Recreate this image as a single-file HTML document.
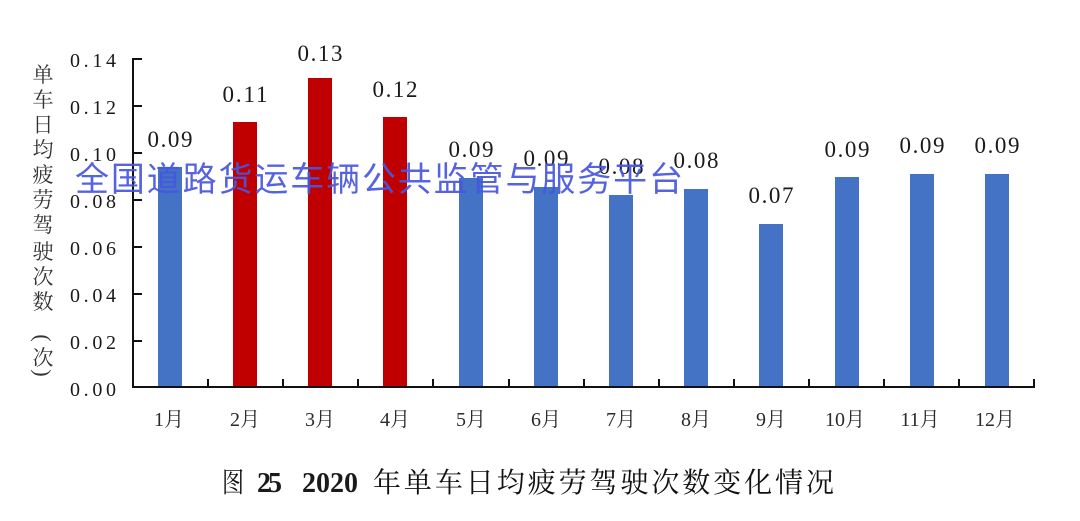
<!DOCTYPE html>
<html><head><meta charset="utf-8"><style>
html,body{margin:0;padding:0;background:#fff;}
svg{display:block;}
.num{font-family:"Liberation Serif","Noto Serif CJK SC",serif;fill:#1a1a1a;}
.cjk{font-family:"Liberation Serif","Noto Serif CJK SC",serif;fill:#2a2a2a;}
.cj{font-family:"Noto Serif CJK SC",serif;}
</style></head><body>
<svg width="1080" height="521" viewBox="0 0 1080 521" xmlns="http://www.w3.org/2000/svg">
<rect width="1080" height="521" fill="#fff"/>
<!-- y axis title -->
<g class="cj" font-size="21" text-anchor="middle" fill="#333">
<text x="43" y="82">单</text>
<text x="43" y="107">车</text>
<text x="43" y="132">日</text>
<text x="43" y="157">均</text>
<text x="43" y="182">疲</text>
<text x="43" y="207">劳</text>
<text x="43" y="232">驾</text>
<text x="43" y="259">驶</text>
<text x="43" y="284">次</text>
<text x="43" y="309">数</text>
<text x="43" y="365">次</text>
</g>
<g font-family="Liberation Serif, serif" font-size="22" fill="#333" text-anchor="middle">
<text transform="translate(43,338) rotate(90)" dominant-baseline="central">(</text>
<text transform="translate(43,373) rotate(90)" dominant-baseline="central">)</text>
</g>
<!-- y ticks labels -->
<g class="num" font-size="20" text-anchor="end">
<text x="116" y="67" textLength="46">0.14</text>
<text x="116" y="114" textLength="46">0.12</text>
<text x="116" y="161" textLength="46">0.10</text>
<text x="116" y="208" textLength="46">0.08</text>
<text x="116" y="255" textLength="46">0.06</text>
<text x="116" y="302" textLength="46">0.04</text>
<text x="116" y="349" textLength="46">0.02</text>
<text x="116" y="396" textLength="46">0.00</text>
</g>
<!-- bars -->
<g>
<rect x="158" y="167" width="24" height="220" fill="#4472C4"/>
<rect x="233" y="122" width="24" height="265" fill="#C00000"/>
<rect x="308" y="78" width="24" height="309" fill="#C00000"/>
<rect x="383" y="117" width="24" height="270" fill="#C00000"/>
<rect x="459" y="178" width="24" height="209" fill="#4472C4"/>
<rect x="534" y="187" width="24" height="200" fill="#4472C4"/>
<rect x="609" y="195" width="24" height="192" fill="#4472C4"/>
<rect x="684" y="189" width="24" height="198" fill="#4472C4"/>
<rect x="759" y="224" width="24" height="163" fill="#4472C4"/>
<rect x="835" y="177" width="24" height="210" fill="#4472C4"/>
<rect x="910" y="174" width="24" height="213" fill="#4472C4"/>
<rect x="985" y="174" width="24" height="213" fill="#4472C4"/>
</g>
<!-- axes -->
<g stroke="#111" stroke-width="2" fill="none">
<line x1="133" y1="58" x2="133" y2="388"/>
<line x1="132" y1="387" x2="1035" y2="387"/>
<line x1="133" y1="59" x2="142" y2="59"/>
<line x1="133" y1="106" x2="142" y2="106"/>
<line x1="133" y1="153" x2="142" y2="153"/>
<line x1="133" y1="200" x2="142" y2="200"/>
<line x1="133" y1="247" x2="142" y2="247"/>
<line x1="133" y1="294" x2="142" y2="294"/>
<line x1="133" y1="341" x2="142" y2="341"/>
<line x1="208" y1="379" x2="208" y2="387"/>
<line x1="283" y1="379" x2="283" y2="387"/>
<line x1="358" y1="379" x2="358" y2="387"/>
<line x1="433" y1="379" x2="433" y2="387"/>
<line x1="509" y1="379" x2="509" y2="387"/>
<line x1="584" y1="379" x2="584" y2="387"/>
<line x1="659" y1="379" x2="659" y2="387"/>
<line x1="734" y1="379" x2="734" y2="387"/>
<line x1="809" y1="379" x2="809" y2="387"/>
<line x1="884" y1="379" x2="884" y2="387"/>
<line x1="959" y1="379" x2="959" y2="387"/>
<line x1="1034" y1="379" x2="1034" y2="387"/>
</g>
<!-- value labels -->
<g class="num" font-size="23" text-anchor="middle">
<text x="170" y="147" textLength="45">0.09</text>
<text x="245" y="102" textLength="45">0.11</text>
<text x="320" y="61" textLength="45">0.13</text>
<text x="395" y="97" textLength="45">0.12</text>
<text x="471" y="157" textLength="45">0.09</text>
<text x="546" y="166" textLength="45">0.09</text>
<text x="621" y="174" textLength="45">0.08</text>
<text x="696" y="168" textLength="45">0.08</text>
<text x="771" y="203" textLength="45">0.07</text>
<text x="847" y="157" textLength="45">0.09</text>
<text x="922" y="153" textLength="45">0.09</text>
<text x="997" y="153" textLength="45">0.09</text>
</g>
<!-- x labels -->
<g class="cjk" font-size="20" text-anchor="middle" fill="#222">
<text x="169" y="426">1月</text>
<text x="245" y="426">2月</text>
<text x="320" y="426">3月</text>
<text x="395" y="426">4月</text>
<text x="471" y="426">5月</text>
<text x="546" y="426">6月</text>
<text x="621" y="426">7月</text>
<text x="696" y="426">8月</text>
<text x="771" y="426">9月</text>
<text x="845" y="426">10月</text>
<text x="920" y="426">11月</text>
<text x="995" y="426">12月</text>
</g>
<!-- watermark -->
<text x="75" y="191" font-size="34" textLength="608" fill="#4656DE" fill-opacity="0.92" style="font-family:'Noto Sans CJK SC','WenQuanYi Zen Hei',sans-serif;">全国道路货运车辆公共监管与服务平台</text>
<!-- title -->
<text x="222" y="492" class="cj" font-size="28" fill="#111" textLength="22" lengthAdjust="spacingAndGlyphs">图</text>
<text x="257" y="492" class="num" font-size="28" font-weight="bold" fill="#111" textLength="25">25</text>
<text x="302" y="492" class="num" font-size="28" font-weight="bold" fill="#111" textLength="56">2020</text>
<text x="373" y="492" class="cj" font-size="28" fill="#111" textLength="461">年单车日均疲劳驾驶次数变化情况</text>
</svg>
</body></html>
